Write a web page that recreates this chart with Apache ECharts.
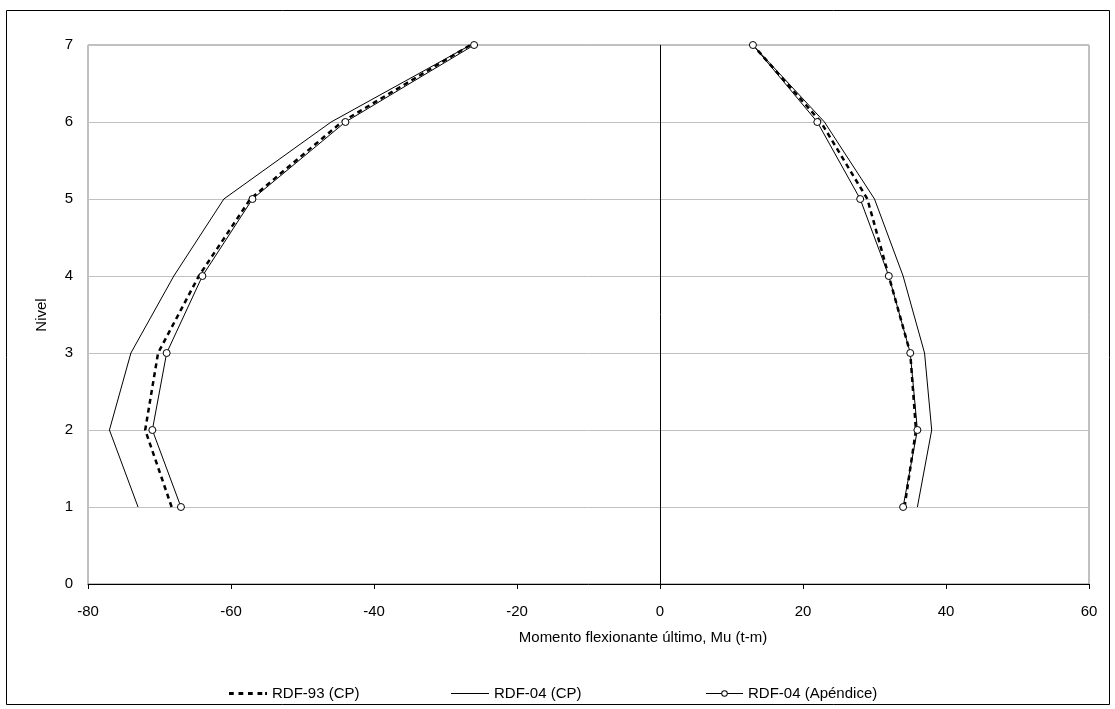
<!DOCTYPE html>
<html>
<head>
<meta charset="utf-8">
<script src="https://cdn.jsdelivr.net/npm/echarts@6/dist/echarts.min.js"></script>
<style>
html,body{margin:0;padding:0;background:#fff;}
#c{width:1115px;height:709px;}
</style>
</head>
<body>
<div id="c"></div>
<script>
const levels = [1, 2, 3, 4, 5, 6, 7];
const rdf93Neg = [-68.3, -72, -70.2, -64.5, -57.3, -44.5, -26.5];
const rdf93Pos = [34.2, 35.8, 35, 32, 29, 22.5, 13];
const cpNeg = [-73, -77, -74, -68, -61, -46, -26.5];
const cpPos = [36, 38, 37, 34, 30, 23, 13];
const apNeg = [-67, -71, -69, -64, -57, -44, -26];
const apPos = [34, 36, 35, 32, 28, 22, 13];
const xTicks = [-80, -60, -40, -20, 0, 20, 40, 60];
const yTicks = [0, 1, 2, 3, 4, 5, 6, 7];
const names = ['RDF-93 (CP)', 'RDF-04 (CP)', 'RDF-04 (Apéndice)'];

const FONT = '"Liberation Sans", Arial, sans-serif';
const FS = 15;
const pairs = (xs) => xs.map((x, i) => [x, levels[i]]);

const dashed = {color: '#000', width: 2.5, type: [5, 4]};
const solid = {color: '#000', width: 1, type: 'solid'};

function mk(name, xs, ls, marker) {
  return {
    type: 'line', name: name, data: pairs(xs),
    lineStyle: ls, itemStyle: {color: '#fff', borderColor: '#000', borderWidth: 1},
    symbol: marker ? 'circle' : 'none', symbolSize: 7, showSymbol: !!marker,
    animation: false, silent: true, z: marker ? 4 : 3
  };
}

const series = [
  mk(names[0], rdf93Neg, dashed, false),
  mk(names[0], rdf93Pos, dashed, false),
  mk(names[1], cpNeg, solid, false),
  mk(names[1], cpPos, solid, false),
  mk(names[2], apNeg, solid, true),
  mk(names[2], apPos, solid, true)
];
series[0].markLine = {
  silent: true, symbol: 'none', label: {show: false},
  lineStyle: {color: '#000', width: 1, type: 'solid'},
  data: [{xAxis: 0}], animation: false
};

const iconDash = 'path://M0,0h5v3h-5z M10,0h5v3h-5z M20,0h5v3h-5z M30,0h5v3h-5z M38,0h2v3h-2z';
const iconLine = 'path://M0,0h40v1h-40z';
const iconMark = 'path://M0,3.5h16.5v1h-16.5z M23.5,3.5h16.5v1h-16.5z ' +
  'M23.5,4 A3.5,3.5 0 1,1 16.5,4 A3.5,3.5 0 1,1 23.5,4 Z ' +
  'M22.5,4 A2.5,2.5 0 1,0 17.5,4 A2.5,2.5 0 1,0 22.5,4 Z';

const chart = echarts.init(document.getElementById('c'), null, {renderer: 'canvas'});
const legendBase = {
  top: 681, itemGap: 0, selectedMode: false,
  itemStyle: {color: '#000', borderWidth: 0},
  textStyle: {fontFamily: FONT, fontSize: FS, color: '#000'}
};
chart.setOption({
  backgroundColor: '#fff',
  animation: false,
  grid: {left: 88, right: 26, top: 45, bottom: 125, show: true, borderColor: '#808080', borderWidth: 1, containLabel: false},
  xAxis: {
    type: 'value', min: xTicks[0], max: xTicks[xTicks.length - 1], interval: 20,
    axisLine: {show: true, onZero: false, lineStyle: {color: '#000', width: 1}},
    axisTick: {show: true, inside: false, length: 5, lineStyle: {color: '#000'}},
    axisLabel: {fontFamily: FONT, fontSize: FS, color: '#000', margin: 20},
    splitLine: {show: false}
  },
  yAxis: {
    type: 'value', min: yTicks[0], max: yTicks[yTicks.length - 1], interval: 1,
    axisLine: {show: false, onZero: false},
    axisTick: {show: false},
    axisLabel: {fontFamily: FONT, fontSize: FS, color: '#000', margin: 15},
    splitLine: {show: true, lineStyle: {color: '#c0c0c0', width: 1}}
  },
  legend: [
    Object.assign({}, legendBase, {left: 224, itemWidth: 38, itemHeight: 3, data: [{name: names[0], icon: iconDash}]}),
    Object.assign({}, legendBase, {left: 446, itemWidth: 38, itemHeight: 1, data: [{name: names[1], icon: iconLine}]}),
    Object.assign({}, legendBase, {left: 701, itemWidth: 37, itemHeight: 8, data: [{name: names[2], icon: iconMark}]})
  ],
  graphic: [
    {type: 'rect', shape: {x: 6.5, y: 10.5, width: 1103, height: 694}, style: {fill: 'none', stroke: '#000', lineWidth: 1}, silent: true},
    {type: 'text', x: 643, y: 638, style: {text: 'Momento flexionante último, Mu (t-m)', font: FS + 'px ' + FONT, fill: '#000', textAlign: 'center', textVerticalAlign: 'middle'}},
    {type: 'text', x: 42, y: 315, rotation: Math.PI / 2, style: {text: 'Nivel', font: FS + 'px ' + FONT, fill: '#000', textAlign: 'center', textVerticalAlign: 'middle'}}
  ],
  series: series
});
</script>
</body>
</html>
